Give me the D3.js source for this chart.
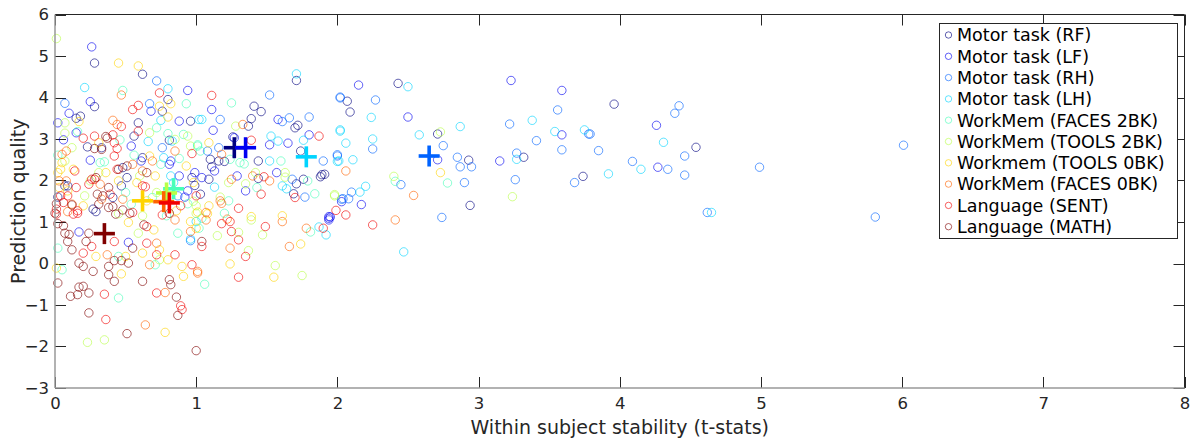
<!DOCTYPE html>
<html><head><meta charset="utf-8">
<script src="https://cdn.jsdelivr.net/npm/d3@7"></script>
<style>body{margin:0;background:#fff}svg{display:block;font-family:"DejaVu Sans",sans-serif}</style>
</head><body><svg id="c" width="1195" height="441"></svg>
<script>
const seriesNames = ["Motor task (RF)","Motor task (LF)","Motor task (RH)","Motor task (LH)","WorkMem (FACES 2BK)","WorkMem (TOOLS 2BK)","Workmem (TOOLS 0BK)","WorkMem (FACES 0BK)","Language (SENT)","Language (MATH)"];
const seriesColors = ["#000080","#0000f1","#0063ff","#00d4ff","#47ffb8","#b8ff47","#ffd400","#ff6300","#f10000","#800000"];
const xTicks = [0,1,2,3,4,5,6,7,8];
const yTicks = [-3,-2,-1,0,1,2,3,4,5,6];
const xLabel = "Within subject stability (t-stats)";
const yLabel = "Prediction quality";

const rfPts = [[0.28,4.83],[0.62,4.56],[0.28,3.78],[0.80,3.95],[0.76,3.67],[0.18,3.55],[0.15,3.50],[0.59,3.39],[0.96,3.43],[0.56,3.07],[0.81,2.97],[0.23,2.81],[0.62,2.55],[0.48,2.31],[0.51,2.07],[0.07,1.87],[0.02,1.60],[0.97,2.07],[0.99,1.88],[0.09,1.87],[0.27,1.31],[0.29,1.25],[0.47,1.87],[0.41,1.59],[1.71,4.41],[1.41,3.79],[1.46,3.66],[1.37,3.31],[1.39,3.49],[1.70,3.27],[1.72,3.33],[1.10,2.51],[1.16,2.47],[1.20,2.46],[1.44,2.47],[1.74,2.71],[1.11,2.33],[1.09,2.03],[1.44,2.05],[1.71,1.92],[1.76,2.03],[1.88,2.09],[1.91,2.15],[1.69,1.68],[1.03,1.67],[2.07,3.91],[2.09,3.65],[2.43,4.34],[2.71,3.12],[2.93,2.49],[2.94,1.40],[3.32,2.56],[3.74,2.10],[3.96,3.84],[4.54,2.80],[1.26,3.05],[0.33,2.79],[1.89,2.14]];
const lfPts = [[0.26,5.22],[0.94,4.17],[0.25,3.90],[0.68,3.67],[0.10,3.62],[0.02,3.39],[0.88,3.43],[0.15,3.15],[0.06,2.98],[0.25,2.49],[0.54,2.83],[0.61,2.47],[0.81,2.39],[0.82,2.47],[0.88,2.11],[0.92,1.60],[0.52,0.51],[0.17,0.76],[0.94,1.75],[0.99,2.19],[1.11,3.71],[1.12,3.21],[1.27,3.03],[1.65,2.90],[1.80,3.10],[1.52,2.86],[1.13,2.23],[1.04,2.07],[1.29,2.11],[1.57,2.19],[1.35,1.75],[1.94,1.09],[1.95,1.12],[2.03,1.49],[2.15,4.30],[2.50,3.53],[2.17,1.42],[1.94,1.13],[1.94,1.05],[3.23,4.41],[3.59,4.17],[3.59,3.10],[3.15,2.47],[2.71,2.50],[4.26,3.33],[4.27,2.32],[1.58,3.47]];
const rhPts = [[0.07,3.86],[0.67,3.85],[0.72,4.40],[0.76,2.79],[0.87,1.63],[0.96,0.55],[1.52,4.06],[2.02,3.99],[1.17,3.47],[1.61,3.42],[1.66,3.51],[1.80,3.53],[1.08,2.71],[1.16,2.79],[1.90,2.47],[2.00,2.59],[1.68,2.03],[1.77,1.60],[2.03,1.55],[2.02,4.01],[2.27,3.94],[2.25,2.76],[2.75,2.84],[2.85,2.56],[2.87,2.33],[2.95,2.33],[2.90,1.95],[2.74,1.11],[2.45,1.90],[2.10,1.72],[2.08,1.56],[2.04,1.56],[2.00,2.62],[3.22,3.36],[3.56,3.70],[3.41,2.96],[3.78,3.12],[3.85,2.72],[3.59,2.74],[3.27,2.66],[3.26,2.02],[3.68,1.95],[3.79,3.12],[4.09,2.46],[4.34,2.27],[4.39,3.62],[4.42,3.80],[4.46,2.59],[4.46,2.13],[4.62,1.23],[4.99,2.32],[5.81,1.12],[6.01,2.85]];
const lhPts = [[0.80,4.21],[0.21,4.24],[0.75,3.45],[1.02,3.47],[0.66,2.94],[0.83,2.95],[0.77,2.55],[0.82,2.11],[0.84,1.95],[0.96,0.59],[1.00,1.01],[1.71,4.57],[1.04,3.47],[1.53,3.07],[1.58,2.95],[1.76,2.97],[2.02,3.19],[1.52,2.47],[2.01,2.47],[1.13,1.84],[1.61,1.87],[1.64,1.80],[1.87,0.88],[1.92,0.69],[2.50,4.26],[2.24,3.52],[2.02,3.22],[2.06,2.90],[2.25,3.00],[2.58,3.10],[2.87,3.30],[2.47,0.28],[2.20,1.86],[2.16,1.72],[2.00,2.46],[2.11,2.50],[3.38,3.45],[3.54,3.18],[3.75,3.22],[3.27,2.51],[3.92,2.16],[4.15,2.27],[4.31,2.92],[4.65,1.23]];
const f2bkPts = [[0.48,4.17],[0.93,3.85],[0.16,3.18],[0.72,3.27],[0.46,2.98],[0.80,3.13],[0.91,3.11],[0.02,2.61],[0.32,2.43],[0.35,2.45],[0.56,2.61],[0.75,2.39],[0.88,2.53],[1.01,2.83],[0.02,0.37],[0.05,-0.15],[0.45,-0.83],[0.45,0.17],[0.71,-0.03],[0.87,0.73],[0.94,1.44],[1.02,0.85],[1.25,3.87],[1.01,2.86],[1.03,2.71],[1.24,2.51],[1.31,2.43],[1.34,2.40],[1.60,2.47],[1.79,1.99],[1.43,1.83],[1.84,1.68],[1.23,1.51],[1.20,1.21],[1.04,1.09],[1.81,0.76],[1.06,-0.50],[2.78,1.94],[2.41,1.98],[0.50,1.71],[0.54,1.43],[0.69,1.59],[0.79,1.15]];
const t2bkPts = [[0.01,5.42],[0.07,3.39],[0.07,3.14],[0.67,3.15],[0.85,2.99],[0.94,3.07],[0.12,2.79],[0.07,2.47],[0.31,2.19],[0.96,2.83],[0.21,1.63],[0.25,1.99],[0.60,2.11],[0.72,1.71],[0.62,1.15],[1.00,1.39],[0.23,-1.90],[0.35,-1.84],[0.59,0.73],[0.74,0.09],[1.00,1.21],[1.28,3.31],[1.23,1.95],[1.35,1.92],[1.42,2.19],[1.63,2.19],[1.63,2.08],[1.17,1.60],[1.98,1.63],[1.39,1.05],[1.15,0.67],[1.30,0.75],[1.47,0.69],[1.37,0.31],[1.56,-0.05],[1.75,-0.29],[2.73,3.17],[2.40,2.10],[1.98,1.66],[3.24,1.61],[0.45,1.20],[0.98,1.50]];
const t0bkPts = [[0.45,4.83],[0.59,4.76],[0.82,3.85],[0.74,3.79],[0.80,3.53],[0.17,3.42],[0.31,2.91],[0.67,2.59],[0.93,2.35],[0.05,2.43],[0.02,2.19],[0.13,2.27],[0.36,2.19],[0.71,2.11],[0.04,2.27],[0.03,1.83],[0.09,1.75],[0.20,1.39],[0.45,1.99],[0.58,1.95],[0.65,1.51],[0.86,1.27],[0.98,1.95],[0.96,1.01],[0.01,-0.11],[0.47,-0.25],[0.29,0.17],[0.50,0.17],[0.62,0.25],[0.74,0.33],[0.80,0.09],[0.70,0.81],[0.52,0.99],[0.78,-1.66],[0.90,-0.07],[0.91,-0.31],[1.09,2.91],[1.09,1.39],[1.01,1.24],[1.08,1.20],[1.39,1.13],[1.61,1.15],[1.00,0.85],[1.24,-0.01],[1.55,-0.33],[1.74,0.47],[2.73,2.19]];
const f0bkPts = [[0.47,4.06],[0.41,3.45],[0.44,3.35],[0.85,2.71],[0.08,2.71],[0.05,2.63],[0.69,2.47],[0.55,2.39],[0.62,2.23],[0.03,1.99],[0.08,1.99],[0.12,1.43],[0.32,1.91],[0.33,1.55],[0.48,1.55],[0.09,1.25],[0.37,0.21],[0.67,-0.03],[0.72,0.49],[0.96,0.77],[1.01,-0.19],[0.64,-1.48],[0.78,-0.70],[1.07,1.23],[1.18,2.63],[1.25,2.03],[1.40,2.11],[1.52,1.99],[1.17,1.51],[1.18,1.45],[1.07,1.05],[1.22,1.07],[1.61,1.01],[1.24,0.37],[1.66,0.41],[1.78,0.85],[1.01,-0.23],[2.06,2.23],[2.54,1.64],[2.41,1.05],[1.33,3.35],[0.85,1.05]];
const sentPts = [[0.74,4.11],[0.59,3.81],[0.55,3.71],[0.47,3.30],[0.20,3.02],[0.28,3.07],[0.41,3.10],[0.59,3.19],[0.42,2.91],[0.44,2.77],[0.42,2.59],[0.97,2.65],[0.44,2.27],[0.26,2.03],[0.64,1.85],[1.00,1.63],[0.14,2.23],[0.04,1.63],[0.09,1.63],[0.15,1.83],[0.01,1.31],[0.01,1.19],[0.06,1.47],[0.16,1.27],[0.13,1.19],[0.24,1.91],[0.28,2.03],[0.39,1.67],[0.55,1.23],[0.62,1.87],[0.89,1.39],[0.16,1.21],[0.20,0.25],[0.42,0.53],[0.26,0.41],[0.72,0.21],[0.85,0.21],[0.65,0.49],[0.65,0.89],[0.76,1.17],[0.97,-0.03],[0.36,-1.35],[0.35,-0.74],[0.72,-0.71],[0.90,-1.11],[0.89,-1.02],[1.11,4.05],[1.39,2.97],[1.87,3.07],[1.48,2.09],[1.70,1.59],[1.46,1.67],[1.30,1.33],[1.24,1.01],[1.18,0.96],[1.49,0.89],[1.25,0.77],[1.30,0.57],[1.35,0.17],[1.30,-0.33],[1.90,0.85],[1.99,1.28],[2.06,1.17],[2.25,0.93],[1.04,0.41]];
const mathPts = [[0.36,3.06],[0.37,3.02],[0.28,2.77],[0.33,2.75],[0.51,2.35],[0.65,2.19],[0.45,2.27],[0.29,2.07],[0.00,1.21],[0.02,0.96],[0.01,1.44],[0.12,1.41],[0.06,0.91],[0.07,0.73],[0.10,0.70],[0.09,0.53],[0.12,0.33],[0.17,0.01],[0.20,-0.07],[0.02,-0.47],[0.17,-0.57],[0.20,-0.55],[0.11,-0.79],[0.16,-0.75],[0.24,-0.71],[0.24,-1.19],[0.51,-1.69],[1.00,-2.10],[0.86,-0.81],[0.87,-1.25],[0.62,-0.43],[0.81,-0.39],[0.82,-0.51],[0.42,-0.43],[0.38,-0.27],[0.38,-0.07],[0.27,-0.19],[0.42,0.07],[0.47,0.07],[0.52,0.01],[0.55,0.37],[0.22,0.53],[0.24,0.73],[0.63,0.93],[0.48,1.29],[0.53,1.21],[0.41,1.37],[0.30,1.67],[0.31,1.43],[0.34,1.63],[0.38,1.35],[0.43,1.19],[0.38,1.83],[0.81,1.21],[1.04,0.53]];
const seriesPoints = [rfPts,lfPts,rhPts,lhPts,f2bkPts,t2bkPts,t0bkPts,f0bkPts,sentPts,mathPts];
// series means (crosses)
const meanX = [1.27,1.35,2.65,1.78,0.84,0.79,0.62,0.77,0.81,0.35];
const meanY = [2.79,2.79,2.59,2.57,1.80,1.70,1.51,1.49,1.46,0.72];

const svg = d3.select("#c");
const L = 55, R = 1184.5, T = 14.5, B = 388;
const x = d3.scaleLinear().domain([0,8]).range([L,R]);
const y = d3.scaleLinear().domain([-3,6]).range([B,T]);
const tickCol = "#262626", tl = 11;

// axes
const gx = svg.append("g").attr("transform",`translate(0,${B})`)
  .call(d3.axisBottom(x).tickValues(xTicks).tickSize(0).tickPadding(9).tickFormat(d3.format("d")));
const gy = svg.append("g").attr("transform",`translate(${L},0)`)
  .call(d3.axisLeft(y).tickValues(yTicks).tickSize(0).tickPadding(6).tickFormat(d3.format("d")));
[gx,gy].forEach(g=>{g.select(".domain").remove();g.selectAll("text").attr("fill",tickCol).attr("font-size",16.5).attr("font-family","DejaVu Sans");});

// inward ticks on all sides
const tk = svg.append("g").attr("stroke",tickCol).attr("stroke-width",1);
xTicks.forEach(v=>{
  tk.append("line").attr("x1",Math.round(x(v))+0.5).attr("x2",Math.round(x(v))+0.5).attr("y1",B).attr("y2",B-tl);
  tk.append("line").attr("x1",Math.round(x(v))+0.5).attr("x2",Math.round(x(v))+0.5).attr("y1",T).attr("y2",T+tl);
});
yTicks.forEach(v=>{
  tk.append("line").attr("y1",Math.round(y(v))+0.5).attr("y2",Math.round(y(v))+0.5).attr("x1",L).attr("x2",L+tl);
  tk.append("line").attr("y1",Math.round(y(v))+0.5).attr("y2",Math.round(y(v))+0.5).attr("x1",R).attr("x2",R-tl);
});

// points
const pts = svg.append("g");
seriesPoints.forEach((arr,i)=>{
  pts.selectAll(null).data(arr).enter().append("circle")
    .attr("cx",d=>x(d[0])).attr("cy",d=>y(d[1])).attr("r",4.2)
    .attr("fill","none").attr("stroke",seriesColors[i]).attr("stroke-width",1).attr("stroke-opacity",0.62);
});

// crosses
const cr = svg.append("g");
meanX.forEach((mx,i)=>{
  const cx = x(mx), cy = y(meanY[i]), h = 10.5;
  cr.append("line").attr("x1",cx-h).attr("x2",cx+h).attr("y1",cy).attr("y2",cy).attr("stroke",seriesColors[i]).attr("stroke-width",3.6);
  cr.append("line").attr("x1",cx).attr("x2",cx).attr("y1",cy-h).attr("y2",cy+h).attr("stroke",seriesColors[i]).attr("stroke-width",3.6);
});

// box
svg.append("line").attr("x1",L).attr("x2",R).attr("y1",T).attr("y2",T).attr("stroke","#262626");
svg.append("line").attr("x1",R).attr("x2",R).attr("y1",T).attr("y2",B).attr("stroke","#262626");
svg.append("line").attr("x1",L).attr("x2",R).attr("y1",B).attr("y2",B).attr("stroke","#999").attr("stroke-width",1.5);
svg.append("line").attr("x1",L).attr("x2",L).attr("y1",T).attr("y2",B).attr("stroke","#999").attr("stroke-width",1.5);

// labels
svg.append("text").attr("x",(L+R)/2).attr("y",434).attr("text-anchor","middle").attr("font-size",19).attr("fill",tickCol).text(xLabel);
svg.append("text").attr("transform",`translate(25,${(T+B)/2}) rotate(-90)`).attr("text-anchor","middle").attr("font-size",19).attr("fill",tickCol).text(yLabel);

// legend
const lg = svg.append("g");
lg.append("rect").attr("x",939.5).attr("y",23.5).attr("width",238).attr("height",215).attr("fill","#fff").attr("stroke","#262626").attr("stroke-width",1);
seriesNames.forEach((n,i)=>{
  const yy = 35 + i*21.3;
  lg.append("circle").attr("cx",948.5).attr("cy",yy).attr("r",3.2).attr("fill","none").attr("stroke",seriesColors[i]).attr("stroke-opacity",0.62);
  lg.append("text").attr("x",957).attr("y",yy).attr("dy","0.36em").attr("font-size",17.5).attr("fill","#000").text(n);
});
</script></body></html>
